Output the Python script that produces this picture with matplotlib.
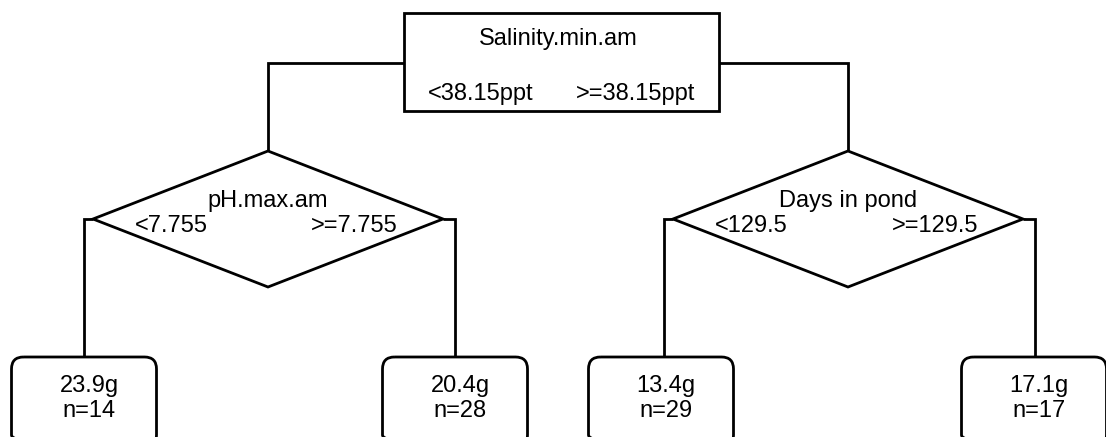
import matplotlib
matplotlib.use("Agg")
import matplotlib.pyplot as plt
from matplotlib.patches import Rectangle, Polygon, FancyBboxPatch

# tree content
root_var = "Salinity.min.am"
root_left = "<38.15ppt"
root_right = ">=38.15ppt"
split_vars = ["pH.max.am", "Days in pond"]
split_left = ["<7.755", "<129.5"]
split_right = [">=7.755", ">=129.5"]
leaf_means = [23.9, 20.4, 13.4, 17.1]
leaf_n = [14, 28, 29, 17]

plt.rcParams['font.family'] = ['Liberation Sans', 'DejaVu Sans']
fs = 17
lw = 2.0

fig = plt.figure(figsize=(11.06, 4.37), dpi=100)
ax = fig.add_axes([0, 0, 1, 1])
ax.set_xlim(0, 1106)
ax.set_ylim(437, 0)
ax.axis("off")

def line(xs, ys):
    ax.plot(xs, ys, color="black", lw=lw, solid_joinstyle="miter", solid_capstyle="butt")

# root box
rx0, rx1, ry0, ry1 = 404, 719, 13, 111
ax.add_patch(Rectangle((rx0, ry0), rx1 - rx0, ry1 - ry0, fill=False, ec="black", lw=lw))
ax.text((rx0 + rx1) / 2 - 3, 45, root_var, ha="center", va="baseline", fontsize=fs)
ax.text(428, 100, root_left, ha="left", va="baseline", fontsize=fs)
ax.text(695, 100, root_right, ha="right", va="baseline", fontsize=fs)

# diamonds
dcx = [268, 848]
dtop, dmid, dbot, dhw = 151, 219, 287, 175
leaf_x = [[84, 455], [664, 1035]]
line([rx0, dcx[0], dcx[0]], [63, 63, dtop])
line([rx1, dcx[1], dcx[1]], [63, 63, dtop])

for i, cx in enumerate(dcx):
    ax.add_patch(Polygon([(cx, dtop), (cx + dhw, dmid), (cx, dbot), (cx - dhw, dmid)],
                         closed=True, fill=False, ec="black", lw=lw, joinstyle="miter"))
    ax.text(cx, 207, split_vars[i], ha="center", va="baseline", fontsize=fs)
    ax.text(cx - 133, 232, split_left[i], ha="left", va="baseline", fontsize=fs)
    ax.text(cx + 130, 232, split_right[i], ha="right", va="baseline", fontsize=fs)
    lx, rxx = leaf_x[i]
    line([cx - dhw, lx, lx], [dmid, dmid, 357])
    line([cx + dhw, rxx, rxx], [dmid, dmid, 357])

# leaves
leaf_centers = [84, 455, 661, 1034]
bw, btop, bh = 145, 357, 90
for cx, m, n in zip(leaf_centers, leaf_means, leaf_n):
    ax.add_patch(FancyBboxPatch((cx - bw / 2, btop), bw, bh,
                                boxstyle="round,pad=0,rounding_size=12",
                                fill=False, ec="black", lw=lw))
    ax.text(cx + 5, 392, "{}g".format(m), ha="center", va="baseline", fontsize=fs)
    ax.text(cx + 5, 417, "n={}".format(n), ha="center", va="baseline", fontsize=fs)

fig.savefig("out.png", dpi=100)
